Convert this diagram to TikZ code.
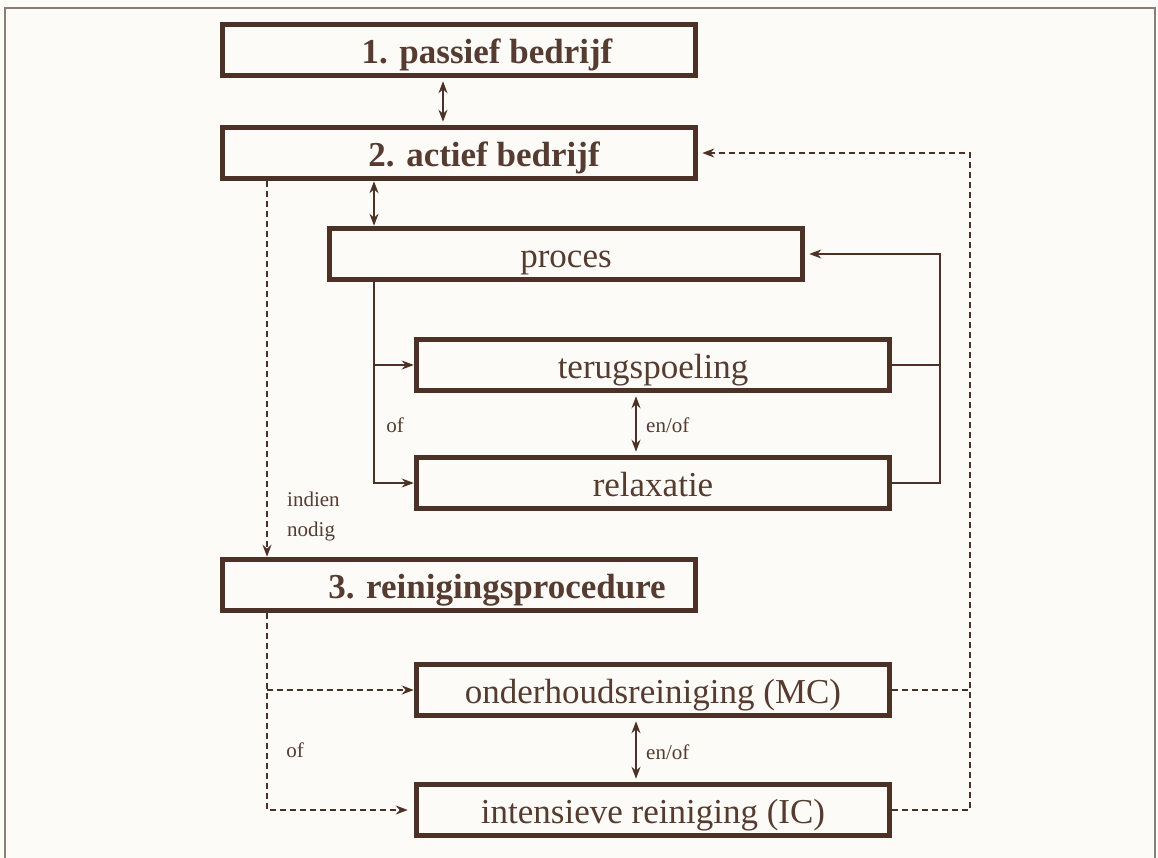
\documentclass[tikz,border=0pt]{standalone}
\usepackage{fontspec}
\setmainfont{Liberation Serif}
\usepackage{xcolor}
\usepackage{tikz}
\usetikzlibrary{positioning,calc,arrows.meta}

\definecolor{brn}{RGB}{76,50,38}
\definecolor{txtbrn}{RGB}{86,60,48}
\definecolor{paper}{RGB}{252,251,248}
\definecolor{framegray}{RGB}{140,126,114}

\begin{document}
\begin{tikzpicture}[
  x=1pt, y=-1pt,
  >={Stealth[length=12pt,width=9pt]},
  blk/.style={rectangle, draw=brn, line width=5.5pt, minimum width=473pt, minimum height=51pt, text=txtbrn, font=\fontsize{35}{40}\selectfont, inner sep=0pt, text height=30pt, text depth=3pt},
  hdr/.style={blk, font=\fontsize{35}{40}\selectfont\bfseries},
  note/.style={text=txtbrn, font=\fontsize{21}{30}\selectfont, inner sep=0pt},
  flow/.style={<->, draw=brn, line width=1.3pt, shorten <=3pt, shorten >=3pt},
  feed/.style={->, draw=brn, line width=1.3pt},
  opt/.style={->, draw=brn, line width=1.5pt, dash pattern=on 6pt off 4pt}
]
\useasboundingbox (0,0) rectangle (1158,858);
\fill[paper] (0,0) rectangle (1158,858);
\draw[framegray, line width=2pt] (5,858) -- (5,8) -- (1155,8) -- (1155,858);

% Left column: operating states
\node[hdr] (passief) at (459,50) {\hspace{56pt}1. passief bedrijf};
\node[hdr] (actief) at (459,153) {\hspace{50pt}2. actief bedrijf};
\node[hdr] (rein) at (459,585) {\hspace{76pt}3. reinigingsprocedure};

% Middle: process and its steps
\node[blk] (proces) at (566,254) {proces\hspace{46pt}};
\node[blk] (terug) at (653,365) {terugspoeling};
\node[blk] (relax) at (653,483) {relaxatie};

% Bottom: cleaning types
\node[blk] (mc) at (653,690) {onderhoudsreiniging (MC)};
\node[blk] (ic) at (653,810) {intensieve reiniging (IC)\hspace{14pt}};

% helper columns
\coordinate (ax) at (443,0);
\coordinate (bx) at (374,0);
\coordinate (cx) at (636,0);
\coordinate (dx) at (267,0);
\coordinate (rx) at (940,0);
\coordinate (ex) at (970,0);

\draw[flow] (passief.south -| ax) -- (actief.north -| ax);
\draw[flow, shorten <=0pt, shorten >=0pt] (actief.south -| bx) -- (proces.north -| bx);

% process loop
\draw[feed] (proces.south -| bx) |- (relax.west);
\draw[feed] (terug.west -| bx) -- (terug.west);
\node[note] (of1) at (395,425) {of};
\draw[flow] (terug.south -| cx) -- (relax.north -| cx);
\node[note, anchor=west] (eo1) at (646,425) {en/of};
\draw[brn, line width=1.3pt] (terug.east) -- (terug.east -| rx);
\draw[feed, shorten >=4pt] (relax.east) -| (proces.east -| rx) -- (proces.east);

% cleaning when needed
\draw[opt] (actief.south -| dx) -- (rein.north -| dx);
\node[note, align=left, anchor=north west] (indien) at (287,492) {indien\\nodig};
\draw[opt, shorten >=6pt] (rein.south -| dx) |- (ic.west);
\draw[opt] (mc.west -| dx) -- (mc.west);
\node[note] (of2) at (295,750) {of};
\draw[flow] (mc.south -| cx) -- (ic.north -| cx);
\node[note, anchor=west] (eo2) at (646,752) {en/of};

% back to active operation
\draw[opt, -] (mc.east) -- (mc.east -| ex);
\draw[opt, shorten >=4pt] (ic.east) -| (actief.east -| ex) -- (actief.east);
\end{tikzpicture}
\end{document}
